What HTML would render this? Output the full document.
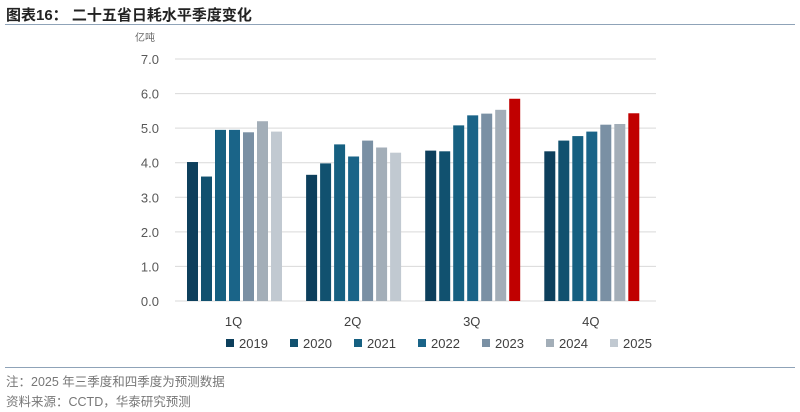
<!DOCTYPE html>
<html><head><meta charset="utf-8"><style>
body{margin:0;width:800px;height:412px;background:#fff;font-family:"Liberation Sans","Noto Sans CJK SC",sans-serif;position:relative;overflow:hidden}
.t{position:absolute}
</style></head><body>
<div class="t" style="left:6px;top:4px;font-size:15px;font-weight:bold;color:#222">图表16：&nbsp;二十五省日耗水平季度变化</div>
<div class="t" style="left:5px;top:24px;width:790px;height:1px;background:#8fa3b8"></div>
<div class="t" style="left:5px;top:367px;width:790px;height:1px;background:#8fa3b8"></div>
<div class="t" style="left:6px;top:371px;font-size:12.5px;color:#777">注：2025 年三季度和四季度为预测数据</div>
<div class="t" style="left:6px;top:391px;font-size:12.5px;color:#777">资料来源：CCTD，华泰研究预测</div>
<svg id="c" class="t" style="left:0;top:0" width="800" height="412"></svg>
<script>
const categories=["1Q","2Q","3Q","4Q"];
const years=["2019","2020","2021","2022","2023","2024","2025"];
const s2019=[4.02,3.65,4.35,4.33];
const s2020=[3.6,3.98,4.33,4.64];
const s2021=[4.95,4.53,5.08,4.77];
const s2022=[4.95,4.18,5.37,4.9];
const s2023=[4.88,4.64,5.42,5.1];
const s2024=[5.2,4.44,5.53,5.12];
const s2025=[4.9,4.29,5.85,5.43];
const yTicks=[0,1,2,3,4,5,6,7];
const series=[s2019,s2020,s2021,s2022,s2023,s2024,s2025];
const colors=["#0d3f5c","#11516f","#166081","#1a6488","#7a90a4","#a3aeb8","#c1c9d1"];
const svg=document.getElementById('c');const NS="http://www.w3.org/2000/svg";
function mk(t,a){const e=document.createElementNS(NS,t);for(const k in a)e.setAttribute(k,a[k]);svg.appendChild(e);return e;}
const y0=301,y7=59,x0=175,x1=656;
const Y=v=>y0-(v/7)*(y0-y7);
const gw=119.1;
const X=(ci,si)=>x0+ci*gw+12+si*14;
let u=mk('text',{x:145,y:41,'font-size':10,fill:'#666','text-anchor':'middle'});u.textContent='亿吨';

yTicks.forEach(v=>{
 const g=mk('line',{x1:x0,x2:x1,y1:Y(v),y2:Y(v),stroke:'#d9d9d9','stroke-width':1});
 
 const t=mk('text',{x:159,y:Y(v)+5,'font-size':13,fill:'#595959','text-anchor':'end'});t.textContent=v.toFixed(1);
 
});
categories.forEach((c,ci)=>{
 series.forEach((s,si)=>{
  const red=(si===6&&ci>=2);
  const r=mk('rect',{x:X(ci,si),y:Y(s[ci]),width:11,height:y0-Y(s[ci]),fill:red?'#c00000':colors[si]});
  
 });
 const t=mk('text',{x:x0+ci*gw+gw/2-1,y:326,'font-size':13,fill:'#404040','text-anchor':'middle'});t.textContent=c;
 
});
years.forEach((yr,i)=>{
 const lx=226+i*64;
 const r=mk('rect',{x:lx,y:339,width:8,height:8,fill:colors[i]});
 
 const t=mk('text',{x:lx+13,y:348,'font-size':13,fill:'#404040'});t.textContent=yr;
 
});
</script>
</body></html>
